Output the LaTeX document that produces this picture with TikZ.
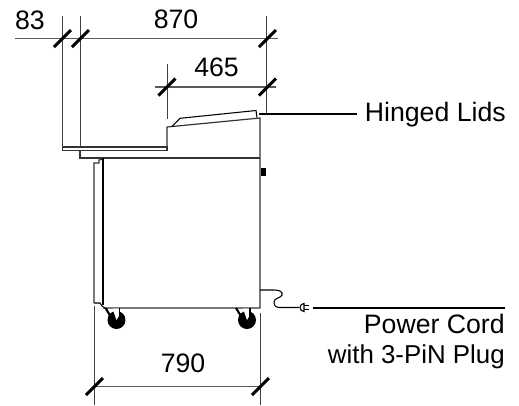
\documentclass[tikz,border=0pt]{standalone}
\usepackage{fontspec}
\setmainfont{Liberation Sans}
\begin{document}
\begin{tikzpicture}
        [x=0.75pt, y=-0.75pt,
        label/.style={inner sep=0pt, font=\fontsize{20}{24}\selectfont},
        extline/.style={black!75, line width=0.75pt},
        dimline/.style={black!65, line width=0.9pt},
        tick/.style={black, line width=2.2pt},
        leader/.style={black, line width=1.3pt},
        body/.style={black!80, line width=0.9pt},
        thin/.style={black, line width=0.8pt}]

        \useasboundingbox (0,0) rectangle (519,405);

        % Points of the dimension lines
        \coordinate (d83l) at (15,38.5);
        \coordinate (d870r) at (278,38.5);
        \coordinate (d465l) at (155,87);
        \coordinate (d465r) at (276,87);
        \coordinate (d790l) at (94,386.5);
        \coordinate (d790r) at (260,386.5);

        % Labels for the dimensions
        \node[label, anchor=base] (t83) at (30,29) {83};
        \node[label, anchor=base] (t870) at (176,28) {870};
        \node[label, anchor=base] (t465) at (216.5,76) {465};
        \node[label, anchor=base] (t790) at (183,372.5) {790};

        % Labels for the leaders
        \node[label, anchor=base east] (tlids) at (506,121.5) {Hinged Lids};
        \node[label, anchor=base east] (tcord) at (505,333.3) {Power Cord};
        \node[label, anchor=base east, font=\fontsize{19.4}{24}\selectfont] (tplug) at (505,363.3) {with 3-PiN Plug};

        % Dimension lines
        \draw[dimline] (d83l) -- (d870r);
        \draw[dimline] (d465l) -- (d465r);
        \draw[dimline] (d790l) -- (d790r);

        % Extension lines
        \draw[extline] (62.5,16) -- (62.5,147);
        \draw[extline] (80,16) -- (80,147);
        \draw[extline] (266.5,16) -- (266.5,113);
        \draw[extline] (167,64) -- (167,119);
        \draw[extline] (94,306) -- (94,405);
        \draw[extline] (260,313) -- (260,405);

        % Slashes on the dimension lines
        \foreach \x/\y in {62.5/38.5, 80.5/38.5, 267.5/38.5, 167/87, 267.5/87, 94.5/386.5, 260.5/386.5}
            \draw[tick] (\x-8.5,\y+8.5) -- (\x+8.5,\y-8.5);

        % Worktop and cabinet
        \draw[body] (62.5,147) rectangle (167,150.7);
        \draw[body] (80,150.7) -- (80,158) -- (260,158);
        \draw[body] (167,150.7) -- (167,127) -- (260,118) -- (260,308) -- (103,308);
        \draw[thin] (172,126.5) -- (180,118.3) -- (256,110.5) -- (257,117.5);
        \fill[black] (260.5,168) rectangle (266,176);

        % Door
        \draw[body] (94,303) -- (94,163) -- (99,163) -- (99,160) -- (103,159);
        \draw[black, line width=1.4pt] (103,158) -- (103,305);
        \draw[thin] (94,303) -- (100,303) -- (102,306) -- (105,308);

        % Castors
        \foreach \x in {116.5,247} {
            \fill[black] (\x,320) circle (9);
            \fill[white] (\x-4,308.5) -- (\x+3,308.5) -- (\x+3,315) -- (\x,320) -- cycle;
            \draw[black, line width=1.6pt] (\x-11,308) -- (\x-2.5,322);
            \draw[black, line width=1pt] (\x+3,308) -- (\x+3,317);
        }

        % Cord and plug
        \draw[thin] (260,290) -- (274,290) .. controls (280,290) and (283,292) .. (282,295)
            .. controls (281,298) and (274,298) .. (274,302)
            .. controls (274,306) and (276,307.5) .. (280,307.5) -- (299,307.5);
        \draw[thin] (304,311.5) arc (90:270:4) -- cycle;
        \draw[thin] (304,305.5) -- (308.5,305.5) (304,309.5) -- (308.5,309.5);

        % Leaders
        \draw[leader] (259,114) -- (357,114);
        \draw[leader] (313,308) -- (505,308);

        \end{tikzpicture}
\end{document}
